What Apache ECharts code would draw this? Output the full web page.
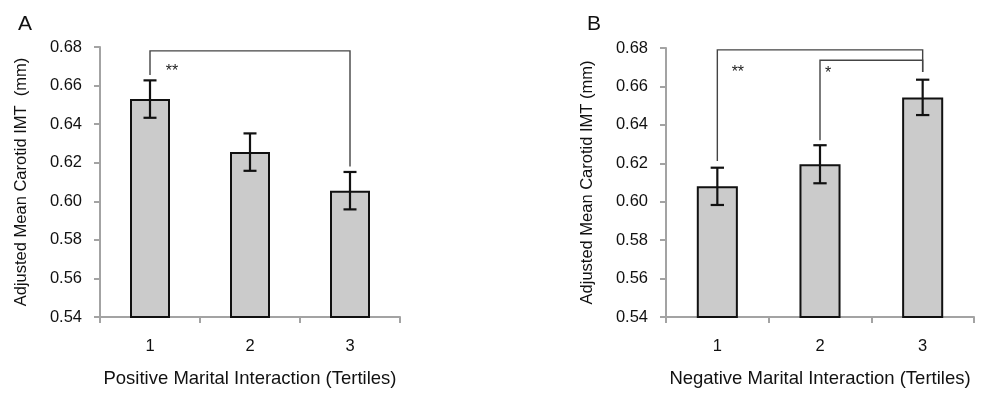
<!DOCTYPE html>
<html>
<head>
<meta charset="utf-8">
<script src="https://cdn.jsdelivr.net/npm/echarts@6/dist/echarts.min.js"></script>
<style>html,body{margin:0;padding:0;background:#fff;}#c{width:985px;height:393px;}</style>
</head>
<body>
<div id="c"></div>
<script>
const categories = ['1', '2', '3'];
const yTicks = [0.54, 0.56, 0.58, 0.60, 0.62, 0.64, 0.66, 0.68];
const meansA = [0.653, 0.6255, 0.6055];
const errA = [0.0097, 0.0097, 0.0097];
const meansB = [0.608, 0.6195, 0.6543];
const errB = [0.0097, 0.0099, 0.0092];
// brackets: [fromCategory, toCategory, topValue, leftEndValue, rightEndValue]
const bracketsA = [[0, 2, 0.678, 0.6655, 0.618]];
const bracketsB = [[0, 2, 0.679, 0.6212, 0.6675], [1, 2, 0.6736, 0.632, 0.6675]];
// significance marks: [category, value, text]
const starsA = [[0, 0.667, '**']];
const starsB = [[0, 0.6672, '**'], [1, 0.6668, '*']];
const starShiftA = [0.22];
const starShiftB = [0.2, 0.08];

const FONT = '"Liberation Sans", Arial, Helvetica, sans-serif';
const axisGray = '#a3a3a3';

function errorData(means, errs) {
  return means.map((m, i) => [i, m - errs[i], m + errs[i]]);
}

function errorRender(params, api) {
  const x = api.value(0);
  const lo = api.coord([x, api.value(1)]);
  const hi = api.coord([x, api.value(2)]);
  const half = api.size([1, 0])[0] * 0.065;
  const st = { stroke: '#111', lineWidth: 2.2, fill: null };
  return {
    type: 'group',
    children: [
      { type: 'line', shape: { x1: lo[0], y1: lo[1], x2: hi[0], y2: hi[1] }, style: st },
      { type: 'line', shape: { x1: hi[0] - half, y1: hi[1], x2: hi[0] + half, y2: hi[1] }, style: st },
      { type: 'line', shape: { x1: lo[0] - half, y1: lo[1], x2: lo[0] + half, y2: lo[1] }, style: st }
    ]
  };
}

function bracketRender(params, api) {
  const a = api.value(0), b = api.value(1), top = api.value(2);
  const p1 = api.coord([a, api.value(3)]);
  const p2 = api.coord([a, top]);
  const p3 = api.coord([b, top]);
  const p4 = api.coord([b, api.value(4)]);
  return {
    type: 'polyline',
    shape: { points: [p1, p2, p3, p4] },
    style: { stroke: '#444', lineWidth: 1.4, fill: null }
  };
}

function starRender(shifts, list) {
  return function (params, api) {
    const c = api.coord([api.value(0), api.value(1)]);
    const bw = api.size([1, 0])[0];
    return {
      type: 'text',
      x: c[0] + bw * shifts[params.dataIndex],
      y: c[1],
      style: { text: list[params.dataIndex][2], fontSize: 16, fontFamily: FONT, fill: '#222', align: 'center', verticalAlign: 'middle' }
    };
  };
}

function xAxis(idx, name) {
  return {
    type: 'category', gridIndex: idx, data: categories,
    axisLine: { lineStyle: { color: axisGray, width: 2 } },
    axisTick: { show: true, length: 6, lineStyle: { color: axisGray, width: 2 } },
    axisLabel: { color: '#111', fontSize: 16.5, fontFamily: FONT, margin: 21 },
    name: name, nameLocation: 'middle', nameGap: 52,
    nameTextStyle: { color: '#111', fontSize: 18.5, fontFamily: FONT }
  };
}

function yAxis(idx, name) {
  return {
    type: 'value', gridIndex: idx, min: 0.54, max: 0.68, interval: 0.02,
    axisLine: { show: true, lineStyle: { color: axisGray, width: 2 } },
    axisTick: { show: true, length: 6, lineStyle: { color: axisGray, width: 2 } },
    splitLine: { show: false },
    axisLabel: { color: '#111', fontSize: 16.5, fontFamily: FONT, margin: 18,
      formatter: v => { const t = yTicks.find(k => Math.abs(k - v) < 1e-6); return (t !== undefined ? t : v).toFixed(2); } },
    name: name, nameLocation: 'middle', nameGap: 70,
    nameTextStyle: { color: '#111', fontSize: 16.5, fontFamily: FONT }
  };
}

const barStyle = { color: '#cbcbcb', borderColor: '#111', borderWidth: 2 };

const chart = echarts.init(document.getElementById('c'), null, { renderer: 'canvas' });
chart.setOption({
  backgroundColor: '#fff',
  animation: false,
  title: [
    { text: 'A', left: 13, top: 9, textStyle: { fontSize: 21, fontWeight: 'normal', fontFamily: FONT, color: '#111' } },
    { text: 'B', left: 582, top: 9, textStyle: { fontSize: 21, fontWeight: 'normal', fontFamily: FONT, color: '#111' } }
  ],
  grid: [
    { left: 100, top: 47, width: 300, height: 270 },
    { left: 666, top: 48, width: 308, height: 269 }
  ],
  xAxis: [xAxis(0, 'Positive Marital Interaction (Tertiles)'), xAxis(1, 'Negative Marital Interaction (Tertiles)')],
  yAxis: [yAxis(0, 'Adjusted Mean Carotid IMT  (mm)'), yAxis(1, 'Adjusted Mean Carotid IMT (mm)')],
  series: [
    { type: 'bar', xAxisIndex: 0, yAxisIndex: 0, data: meansA, barWidth: '40%', itemStyle: barStyle },
    { type: 'bar', xAxisIndex: 1, yAxisIndex: 1, data: meansB, barWidth: '40%', itemStyle: barStyle },
    { type: 'custom', xAxisIndex: 0, yAxisIndex: 0, data: errorData(meansA, errA), renderItem: errorRender, z: 5 },
    { type: 'custom', xAxisIndex: 1, yAxisIndex: 1, data: errorData(meansB, errB), renderItem: errorRender, z: 5 },
    { type: 'custom', xAxisIndex: 0, yAxisIndex: 0, data: bracketsA, renderItem: bracketRender, z: 4 },
    { type: 'custom', xAxisIndex: 1, yAxisIndex: 1, data: bracketsB, renderItem: bracketRender, z: 4 },
    { type: 'custom', xAxisIndex: 0, yAxisIndex: 0, data: starsA.map(s => [s[0], s[1]]), renderItem: starRender(starShiftA, starsA), z: 6 },
    { type: 'custom', xAxisIndex: 1, yAxisIndex: 1, data: starsB.map(s => [s[0], s[1]]), renderItem: starRender(starShiftB, starsB), z: 6 }
  ]
});
</script>
</body>
</html>
